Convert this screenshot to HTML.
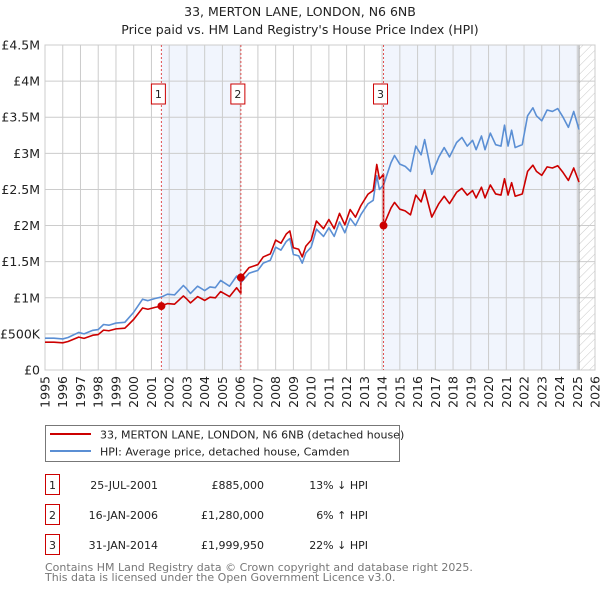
<!DOCTYPE html>
<html><head><meta charset="utf-8"><style>
body{margin:0;background:#fff;font-family:"Liberation Sans","DejaVu Sans",sans-serif;}
svg text{font-family:"DejaVu Sans","Liberation Sans",sans-serif;}
</style></head><body>
<svg id="c" width="600" height="590" xmlns="http://www.w3.org/2000/svg">
<defs><pattern id="hatch" patternUnits="userSpaceOnUse" width="6" height="6" patternTransform="rotate(45)"><line x1="0" y1="0" x2="0" y2="6" stroke="#bbb" stroke-width="0.8"/></pattern></defs>
<text x="300" y="16" text-anchor="middle" font-size="12.5" fill="#222">33, MERTON LANE, LONDON, N6 6NB</text>
<text x="300" y="34" text-anchor="middle" font-size="12.5" fill="#222">Price paid vs. HM Land Registry's House Price Index (HPI)</text>
<g id="plot"></g>
<g>
<rect x="45.5" y="425.5" width="354" height="36" fill="#fff" stroke="#777"/>
<line x1="50" y1="434" x2="91" y2="434" stroke="#cc0000" stroke-width="2"/>
<text x="100" y="438.5" font-size="11" fill="#222">33, MERTON LANE, LONDON, N6 6NB (detached house)</text>
<line x1="50" y1="451" x2="91" y2="451" stroke="#5b8fd4" stroke-width="2"/>
<text x="100" y="455.5" font-size="11" fill="#222">HPI: Average price, detached house, Camden</text>
</g>
<g id="table" font-size="11" fill="#222"></g>
<text x="45" y="571" font-size="11" fill="#777">Contains HM Land Registry data © Crown copyright and database right 2025.</text>
<text x="45" y="581" font-size="11" fill="#777">This data is licensed under the Open Government Licence v3.0.</text>
</svg>
<script>
const hpiYears=[1995,1995.5,1996,1996.3,1996.9,1997.2,1997.7,1998,1998.3,1998.6,1999,1999.5,2000,2000.5,2000.8,2001.2,2001.56,2001.9,2002.3,2002.8,2003,2003.2,2003.6,2004,2004.3,2004.6,2004.9,2005.4,2005.8,2006.04,2006.5,2007,2007.3,2007.7,2008,2008.3,2008.6,2008.8,2009,2009.3,2009.5,2009.7,2010,2010.3,2010.7,2011,2011.3,2011.6,2011.9,2012.2,2012.5,2012.8,2013.2,2013.5,2013.7,2013.85,2014.08,2014.5,2014.7,2015,2015.3,2015.6,2015.9,2016.2,2016.4,2016.8,2017.2,2017.5,2017.8,2018.2,2018.5,2018.8,2019.1,2019.3,2019.6,2019.8,2020.1,2020.4,2020.7,2020.9,2021.1,2021.3,2021.5,2021.9,2022.2,2022.5,2022.7,2023,2023.3,2023.6,2023.9,2024.2,2024.5,2024.8,2025.1];
const hpiValues=[0.44,0.44,0.43,0.45,0.52,0.50,0.55,0.56,0.63,0.62,0.65,0.66,0.80,0.98,0.96,0.99,1.01,1.05,1.04,1.17,1.12,1.06,1.16,1.10,1.15,1.14,1.24,1.16,1.30,1.21,1.34,1.38,1.48,1.52,1.70,1.66,1.78,1.82,1.60,1.58,1.48,1.62,1.70,1.95,1.85,1.97,1.85,2.05,1.90,2.10,2.00,2.15,2.30,2.35,2.69,2.50,2.56,2.87,2.97,2.85,2.82,2.75,3.10,2.98,3.19,2.71,2.95,3.08,2.95,3.15,3.22,3.10,3.18,3.05,3.24,3.05,3.28,3.12,3.10,3.39,3.10,3.32,3.08,3.12,3.52,3.63,3.52,3.45,3.60,3.58,3.62,3.50,3.36,3.58,3.33];
const saleYears=[2001.56,2006.04,2014.08];
const salePrices=[0.885,1.28,1.99995];
const saleLabels=["1","2","3"];
const saleDates=["25-JUL-2001","16-JAN-2006","31-JAN-2014"];
const salePriceText=["£885,000","£1,280,000","£1,999,950"];
const saleHpiText=["13% ↓ HPI","6% ↑ HPI","22% ↓ HPI"];
const yTicks=[0,0.5,1,1.5,2,2.5,3,3.5,4,4.5];
const yTickLabels=["£0","£500K","£1M","£1.5M","£2M","£2.5M","£3M","£3.5M","£4M","£4.5M"];
const xTicks=[1995,1996,1997,1998,1999,2000,2001,2002,2003,2004,2005,2006,2007,2008,2009,2010,2011,2012,2013,2014,2015,2016,2017,2018,2019,2020,2021,2022,2023,2024,2025,2026];
const dataEnd=2025.1;

const L=45,R=595,T=45,B=370,X0=1995,X1=2026,YMAX=4.5;
const sx=v=>L+(v-X0)/(X1-X0)*(R-L);
const sy=v=>B-v/YMAX*(B-T);
const NS="http://www.w3.org/2000/svg";
const plot=document.getElementById('plot');
function mk(tag,attrs,parent){const e=document.createElementNS(NS,tag);for(const k in attrs)e.setAttribute(k,attrs[k]);(parent||plot).appendChild(e);return e;}
function hpiAt(y){for(let i=0;i<hpiYears.length-1;i++){if(y<=hpiYears[i+1]){const t=(y-hpiYears[i])/(hpiYears[i+1]-hpiYears[i]);return hpiValues[i]+t*(hpiValues[i+1]-hpiValues[i]);}}return hpiValues[hpiValues.length-1];}

let e;
e=mk('rect',{x:L,y:T,width:R-L,height:B-T,fill:'#fff'});


e=mk('rect',{x:sx(saleYears[0]),y:T,width:sx(saleYears[1])-sx(saleYears[0]),height:B-T,fill:'#eef3fc',opacity:0.8});


e=mk('rect',{x:sx(saleYears[2]),y:T,width:sx(dataEnd)-sx(saleYears[2]),height:B-T,fill:'#eef3fc',opacity:0.8});


e=mk('rect',{x:sx(dataEnd),y:T,width:R-sx(dataEnd),height:B-T,fill:'url(#hatch)'});


yTicks.forEach((v,i)=>{
 e=mk('line',{x1:L,x2:R,y1:sy(v),y2:sy(v),stroke:'#ccc','stroke-width':1});
 
 
 e=mk('text',{x:L-5,y:sy(v)+4.5,'text-anchor':'end','font-size':12.5,fill:'#222'});
 e.textContent=yTickLabels[i];
 
 
});
xTicks.forEach(v=>{
 e=mk('line',{x1:sx(v),x2:sx(v),y1:T,y2:B,stroke:'#ccc','stroke-width':1});
 
 
 const x=sx(v)+4.5,y=376;
 e=mk('text',{x:x,y:y,'text-anchor':'end','font-size':12.5,fill:'#222',transform:`rotate(-90 ${x} ${y})`});
 e.textContent=String(v);
 
 
});
e=mk('line',{x1:sx(dataEnd),x2:sx(dataEnd),y1:T,y2:B,stroke:'#999','stroke-width':1});


e=mk('rect',{x:L,y:T,width:R-L,height:B-T,fill:'none',stroke:'#ccc'});



// HPI line
e=mk('polyline',{points:hpiYears.map((y,i)=>sx(y)+','+sy(hpiValues[i])).join(' '),fill:'none',stroke:'#5b8fd4','stroke-width':1.6,'stroke-linejoin':'round'});


// property line: HPI scaled by ratio at each sale
const ratios=saleYears.map((y,i)=>salePrices[i]/hpiAt(y));
function ratioAt(y){let r=ratios[0];for(let i=0;i<saleYears.length;i++)if(y>=saleYears[i])r=ratios[i];return r;}
const pts=[];
hpiYears.forEach((y,i)=>{
 saleYears.forEach((s,k)=>{if(k>0&&s>(i?hpiYears[i-1]:-1e9)&&s<=y){pts.push([s,hpiAt(s)*ratios[k-1]]);pts.push([s,salePrices[k]]);}});
 pts.push([y,hpiValues[i]*ratioAt(y)]);
});
e=mk('polyline',{points:pts.map(p=>sx(p[0])+','+sy(p[1])).join(' '),fill:'none',stroke:'#cc0000','stroke-width':1.6,'stroke-linejoin':'round'});



saleYears.forEach((s,i)=>{
 e=mk('line',{x1:sx(s),x2:sx(s),y1:T,y2:B,stroke:'#e05050','stroke-width':1,'stroke-dasharray':'2,2'});
 
 
 e=mk('rect',{x:sx(s)-10,y:84,width:14,height:20,fill:'#fff',stroke:'#cc0000'});
 
 
 e=mk('text',{x:sx(s)-3,y:98,'text-anchor':'middle','font-size':11,fill:'#222'});
 e.textContent=saleLabels[i];
 
 
 e=mk('circle',{cx:sx(s),cy:sy(salePrices[i]),r:4,fill:'#cc0000'});
 
 
});

const table=document.getElementById('table');
saleYears.forEach((s,i)=>{
 const y=485+i*30;
 e=mk('rect',{x:45.5,y:y-10.5,width:14,height:20,fill:'#fff',stroke:'#cc0000'},table);
 
 
 e=mk('text',{x:52.5,y:y+4,'text-anchor':'middle'},table);e.textContent=saleLabels[i];
 
 
 e=mk('text',{x:158,y:y+4,'text-anchor':'end'},table);e.textContent=saleDates[i];
 
 
 e=mk('text',{x:264,y:y+4,'text-anchor':'end'},table);e.textContent=salePriceText[i];
 
 
 e=mk('text',{x:368,y:y+4,'text-anchor':'end'},table);e.textContent=saleHpiText[i];
 
 
});
</script>
</body></html>
